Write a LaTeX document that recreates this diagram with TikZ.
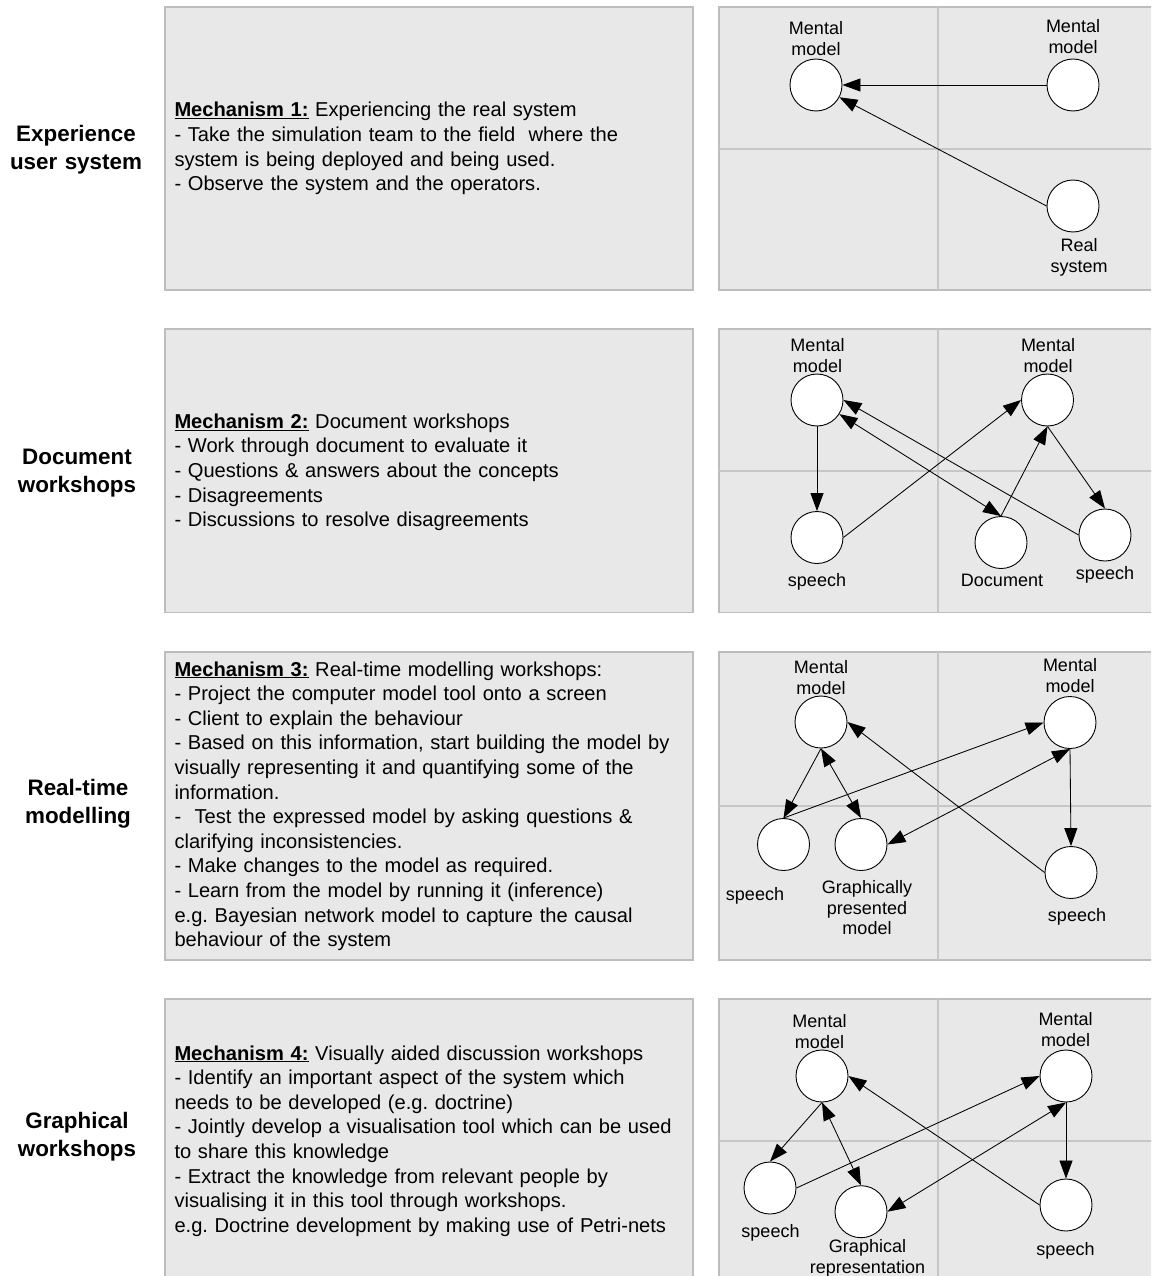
\documentclass[tikz,border=0pt]{standalone}
\usepackage{fontspec}
\setmainfont{Liberation Sans}
\usetikzlibrary{arrows.meta}
\definecolor{panelfill}{HTML}{E8E8E8}
\definecolor{panelline}{HTML}{BDBDBD}
\definecolor{divline}{HTML}{C6C6C6}
\frenchspacing
\begin{document}
\begin{tikzpicture}[x=1pt,y=-1pt,
  panel/.style={draw=panelline, fill=panelfill, line width=1.3pt},
  divider/.style={draw=divline, line width=1.2pt},
  state/.style={circle, draw=black, fill=white, line width=0.9pt, minimum size=52pt, inner sep=0pt},
  lbl/.style={font=\fontsize{18}{20.7}\selectfont, text width=170pt, align=center, inner sep=0pt, anchor=base},
  rowtitle/.style={font=\fontsize{22.4}{28}\selectfont\bfseries, text width=160pt, align=center, inner sep=0pt, anchor=base},
  body/.style={font=\fontsize{20.1}{24.6}\selectfont, text width=540pt, align=left, inner sep=0pt, anchor=base west},
  flow/.style={-{Triangle[length=18pt,width=13pt]}, line width=0.85pt},
  flowboth/.style={{Triangle[length=18pt,width=13pt]}-{Triangle[length=18pt,width=13pt]}, line width=0.85pt},
]
\useasboundingbox (0,0) rectangle (1151,1276);
\clip (0,0) rectangle (1151,1276);

% ---------- panels ----------
\foreach \top/\bot/\mid in {7/290/149, 329/612.7/471, 652/960/806, 999/1300/1141}{
  \draw[panel] (165,\top) rectangle (693,\bot);
  \draw[panel] (719,\top) rectangle (1156,\bot);
  \draw[divider] (938,\top) -- (938,\bot);
  \draw[divider] (719,\mid) -- (1156,\mid);
}

% ---------- row titles ----------
\node[rowtitle] (t1) at (76,141.7) {Experience\\user system};
\node[rowtitle] (t2) at (77,464) {Document\\workshops};
\node[rowtitle] (t3) at (78,795) {Real-time\\modelling};
\node[rowtitle] (t4) at (77,1128.3) {Graphical\\workshops};

% ---------- mechanism descriptions ----------
\node[body] (d1) at (174.3,117) {\underline{\textbf{Mechanism 1:}} Experiencing the real system\\
- Take the simulation team to the field~ where the\\
system is being deployed and being used.\\
- Observe the system and the operators.};

\node[body] (d2) at (174.3,428.3) {\underline{\textbf{Mechanism 2:}} Document workshops\\
- Work through document to evaluate it\\
- Questions \& answers about the concepts\\
- Disagreements\\
- Discussions to resolve disagreements};

\node[body] (d3) at (174.3,676) {\underline{\textbf{Mechanism 3:}} Real-time modelling workshops:\\
- Project the computer model tool onto a screen\\
- Client to explain the behaviour\\
- Based on this information, start building the model by\\
visually representing it and quantifying some of the\\
information.\\
-~ Test the expressed model by asking questions \&\\
clarifying inconsistencies.\\
- Make changes to the model as required.\\
- Learn from the model by running it (inference)\\
e.g. Bayesian network model to capture the causal\\
behaviour of the system};

\node[body] (d4) at (174.3,1060) {\underline{\textbf{Mechanism 4:}} Visually aided discussion workshops\\
- Identify an important aspect of the system which\\
needs to be developed (e.g. doctrine)\\
- Jointly develop a visualisation tool which can be used\\
to share this knowledge\\
- Extract the knowledge from relevant people by\\
visualising it in this tool through workshops.\\
e.g. Doctrine development by making use of Petri-nets};

% ---------- row 1: experiencing the real system ----------
\node[state] (r1m1) at (816,85) {};
\node[state] (r1m2) at (1073,85) {};
\node[state] (r1rs) at (1073,206) {};
\node[lbl] (r1m1l) at (816,35) {Mental\\model};
\node[lbl] (r1m2l) at (1073,32.7) {Mental\\model};
\node[lbl] (r1rsl) at (1079,251.7) {Real\\system};
\draw[flow] (r1m2) -- (r1m1);
\draw[flow] (r1rs.west) -- (r1m1);

% ---------- row 2: document workshops ----------
\node[state] (r2m1) at (817,400) {};
\node[state] (r2m2) at (1047.5,400) {};
\node[state] (r2s1) at (817,537.5) {};
\node[state] (r2doc) at (1001,542.5) {};
\node[state] (r2s2) at (1105,535) {};
\node[lbl] (r2m1l) at (817.5,351.7) {Mental\\model};
\node[lbl] (r2m2l) at (1048,351.7) {Mental\\model};
\node[lbl] (r2s1l) at (817,586.7) {speech};
\node[lbl] (r2docl) at (1002,586.7) {Document};
\node[lbl] (r2s2l) at (1105,579.3) {speech};
\draw[flow] (r2m1) -- (r2s1);
\draw[flow] (r2s1.east) -- (r2m2.west);
\draw[flowboth] (r2doc.north) -- (r2m1);
\draw[flow] (r2doc.north) -- (r2m2.south);
\draw[flow] (r2m2.south) -- (r2s2.north);
\draw[flow] (r2s2.west) -- (r2m1.east);

% ---------- row 3: real-time modelling ----------
\node[state] (r3m1) at (821,722) {};
\node[state] (r3m2) at (1070,722.5) {};
\node[state] (r3s1) at (783.5,844.5) {};
\node[state] (r3gp) at (861,844.5) {};
\node[state] (r3s2) at (1071,872.5) {};
\node[lbl] (r3m1l) at (821,673.3) {Mental\\model};
\node[lbl] (r3m2l) at (1070,671.7) {Mental\\model};
\node[lbl] (r3s1l) at (755,900) {speech};
\node[lbl] (r3gpl) at (867,893.3) {Graphically\\presented\\model};
\node[lbl] (r3s2l) at (1077,921.7) {speech};
\draw[flow] (r3m1.south) -- (r3s1.north);
\draw[flowboth] (r3m1.south) -- (r3gp.north);
\draw[flow] (r3s1.north) -- (r3m2.west);
\draw[flowboth] (r3gp.east) -- (r3m2.south);
\draw[flow] (r3m2.south) -- (r3s2.north);
\draw[flow] (r3s2.west) -- (r3m1.east);

% ---------- row 4: graphical workshops ----------
\node[state] (r4m1) at (822,1076) {};
\node[state] (r4m2) at (1066,1076) {};
\node[state] (r4s1) at (770,1188) {};
\node[state] (r4gr) at (861,1211.7) {};
\node[state] (r4s2) at (1066,1205) {};
\node[lbl] (r4m1l) at (819.5,1027.7) {Mental\\model};
\node[lbl] (r4m2l) at (1065.5,1025.7) {Mental\\model};
\node[lbl] (r4s1l) at (770.5,1237.7) {speech};
\node[lbl] (r4grl) at (867.5,1252.7) {Graphical\\representation};
\node[lbl] (r4s2l) at (1065.5,1255) {speech};
\draw[flow] (r4m1.south) -- (r4s1.north);
\draw[flowboth] (r4m1.south) -- (r4gr.north);
\draw[flow] (r4s1.east) -- (r4m2.west);
\draw[flowboth] (r4gr.east) -- (r4m2.south);
\draw[flow] (r4m2.south) -- (r4s2.north);
\draw[flow] (r4s2.west) -- (r4m1.east);
\end{tikzpicture}
\end{document}
